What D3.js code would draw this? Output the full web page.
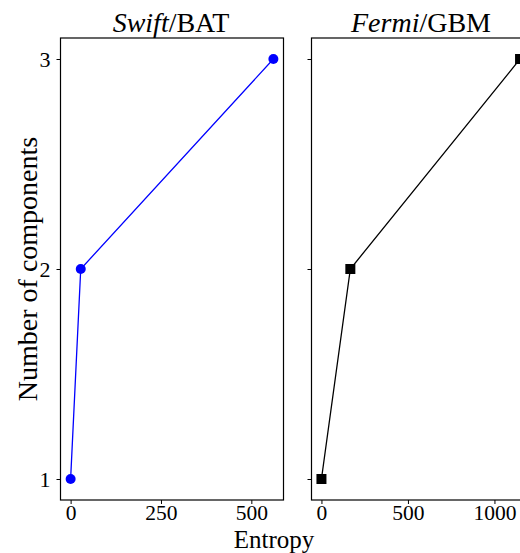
<!DOCTYPE html>
<html>
<head>
<meta charset="utf-8">
<script src="https://cdn.jsdelivr.net/npm/d3@7"></script>
<style>
body { margin: 0; background: #fff; }
text { font-family: "Liberation Serif", "DejaVu Serif", serif; fill: #000; }
</style>
</head>
<body>
<div id="graph"></div>
<script>
var w = 520, h = 553;

// data
var components = [1, 2, 3];
var swiftEntropy = [0, 28, 561];
var fermiEntropy = [0, 167, 1148];
var swiftTicks = [0, 250, 500];
var fermiTicks = [0, 500, 1000];
var yTicks = [1, 2, 3];

var svg = d3.select("#graph")
	.append("svg")
	.attr("width", w)
	.attr("height", h);

var y = d3.scaleLinear().domain([0.9, 3.1]).range([500, 38]);

function panel(x0, x1, domain, xs, ticks, opts) {
	var x = d3.scaleLinear().domain(domain).range([x0, x1]);
	var g = svg.append("g");

	g.append("g")
		.attr("transform", "translate(0,500)")
		.call(d3.axisBottom(x).tickValues(ticks).tickFormat(d3.format("d"))
			.tickSize(4).tickPadding(1).tickSizeOuter(0))
		.call(function(a) {
			a.select(".domain").remove();
			a.selectAll("text").attr("font-size", 21.5).attr("dy", "0.72em");
		});

	g.append("g")
		.attr("transform", "translate(" + x0 + ",0)")
		.call(d3.axisLeft(y).tickValues(yTicks).tickFormat(d3.format("d"))
			.tickSize(4).tickPadding(6).tickSizeOuter(0))
		.call(function(a) {
			a.select(".domain").remove();
			a.selectAll("text").attr("font-size", 22).attr("dy", "0.35em");
			if (!opts.labels) a.selectAll("text").remove();
		});

	g.append("rect")
		.attr("x", x0).attr("y", 38)
		.attr("width", x1 - x0).attr("height", 462)
		.attr("fill", "none").attr("stroke", "#000").attr("stroke-width", 1.2);

	var pts = xs.map(function(v, i) { return [x(v), y(components[i])]; });
	g.append("path")
		.attr("d", d3.line()(pts))
		.attr("fill", "none")
		.attr("stroke", opts.color)
		.attr("stroke-width", 1.3);

	if (opts.marker == "circle") {
		g.selectAll(".m").data(pts).enter().append("circle")
			.attr("cx", function(d) { return d[0]; })
			.attr("cy", function(d) { return d[1]; })
			.attr("r", 5)
			.attr("fill", opts.color);
	} else {
		g.selectAll(".m").data(pts).enter().append("rect")
			.attr("x", function(d) { return d[0] - 5; })
			.attr("y", function(d) { return d[1] - 5; })
			.attr("width", 10).attr("height", 10)
			.attr("fill", opts.color);
	}
	return x;
}

panel(60.5, 283.5, [-28, 589], swiftEntropy, swiftTicks, {color: "#0000ff", marker: "circle", labels: true});
panel(311.5, 530, [-57.5, 1205.5], fermiEntropy, fermiTicks, {color: "#000", marker: "square", labels: false});

var t1 = svg.append("text").attr("x", 171).attr("y", 32).attr("text-anchor", "middle").attr("font-size", 28);
t1.append("tspan").attr("font-style", "italic").text("Swift");
t1.append("tspan").text("/BAT");

var t2 = svg.append("text").attr("x", 421).attr("y", 32).attr("text-anchor", "middle").attr("font-size", 28);
t2.append("tspan").attr("font-style", "italic").text("Fermi");
t2.append("tspan").text("/GBM");

svg.append("text")
	.text("Entropy")
	.attr("x", 274)
	.attr("y", 548)
	.attr("text-anchor", "middle")
	.attr("font-size", 25);

svg.append("text")
	.text("Number of components")
	.attr("transform", "translate(37,269) rotate(-90)")
	.attr("text-anchor", "middle")
	.attr("font-size", 28);
</script>
</body>
</html>
